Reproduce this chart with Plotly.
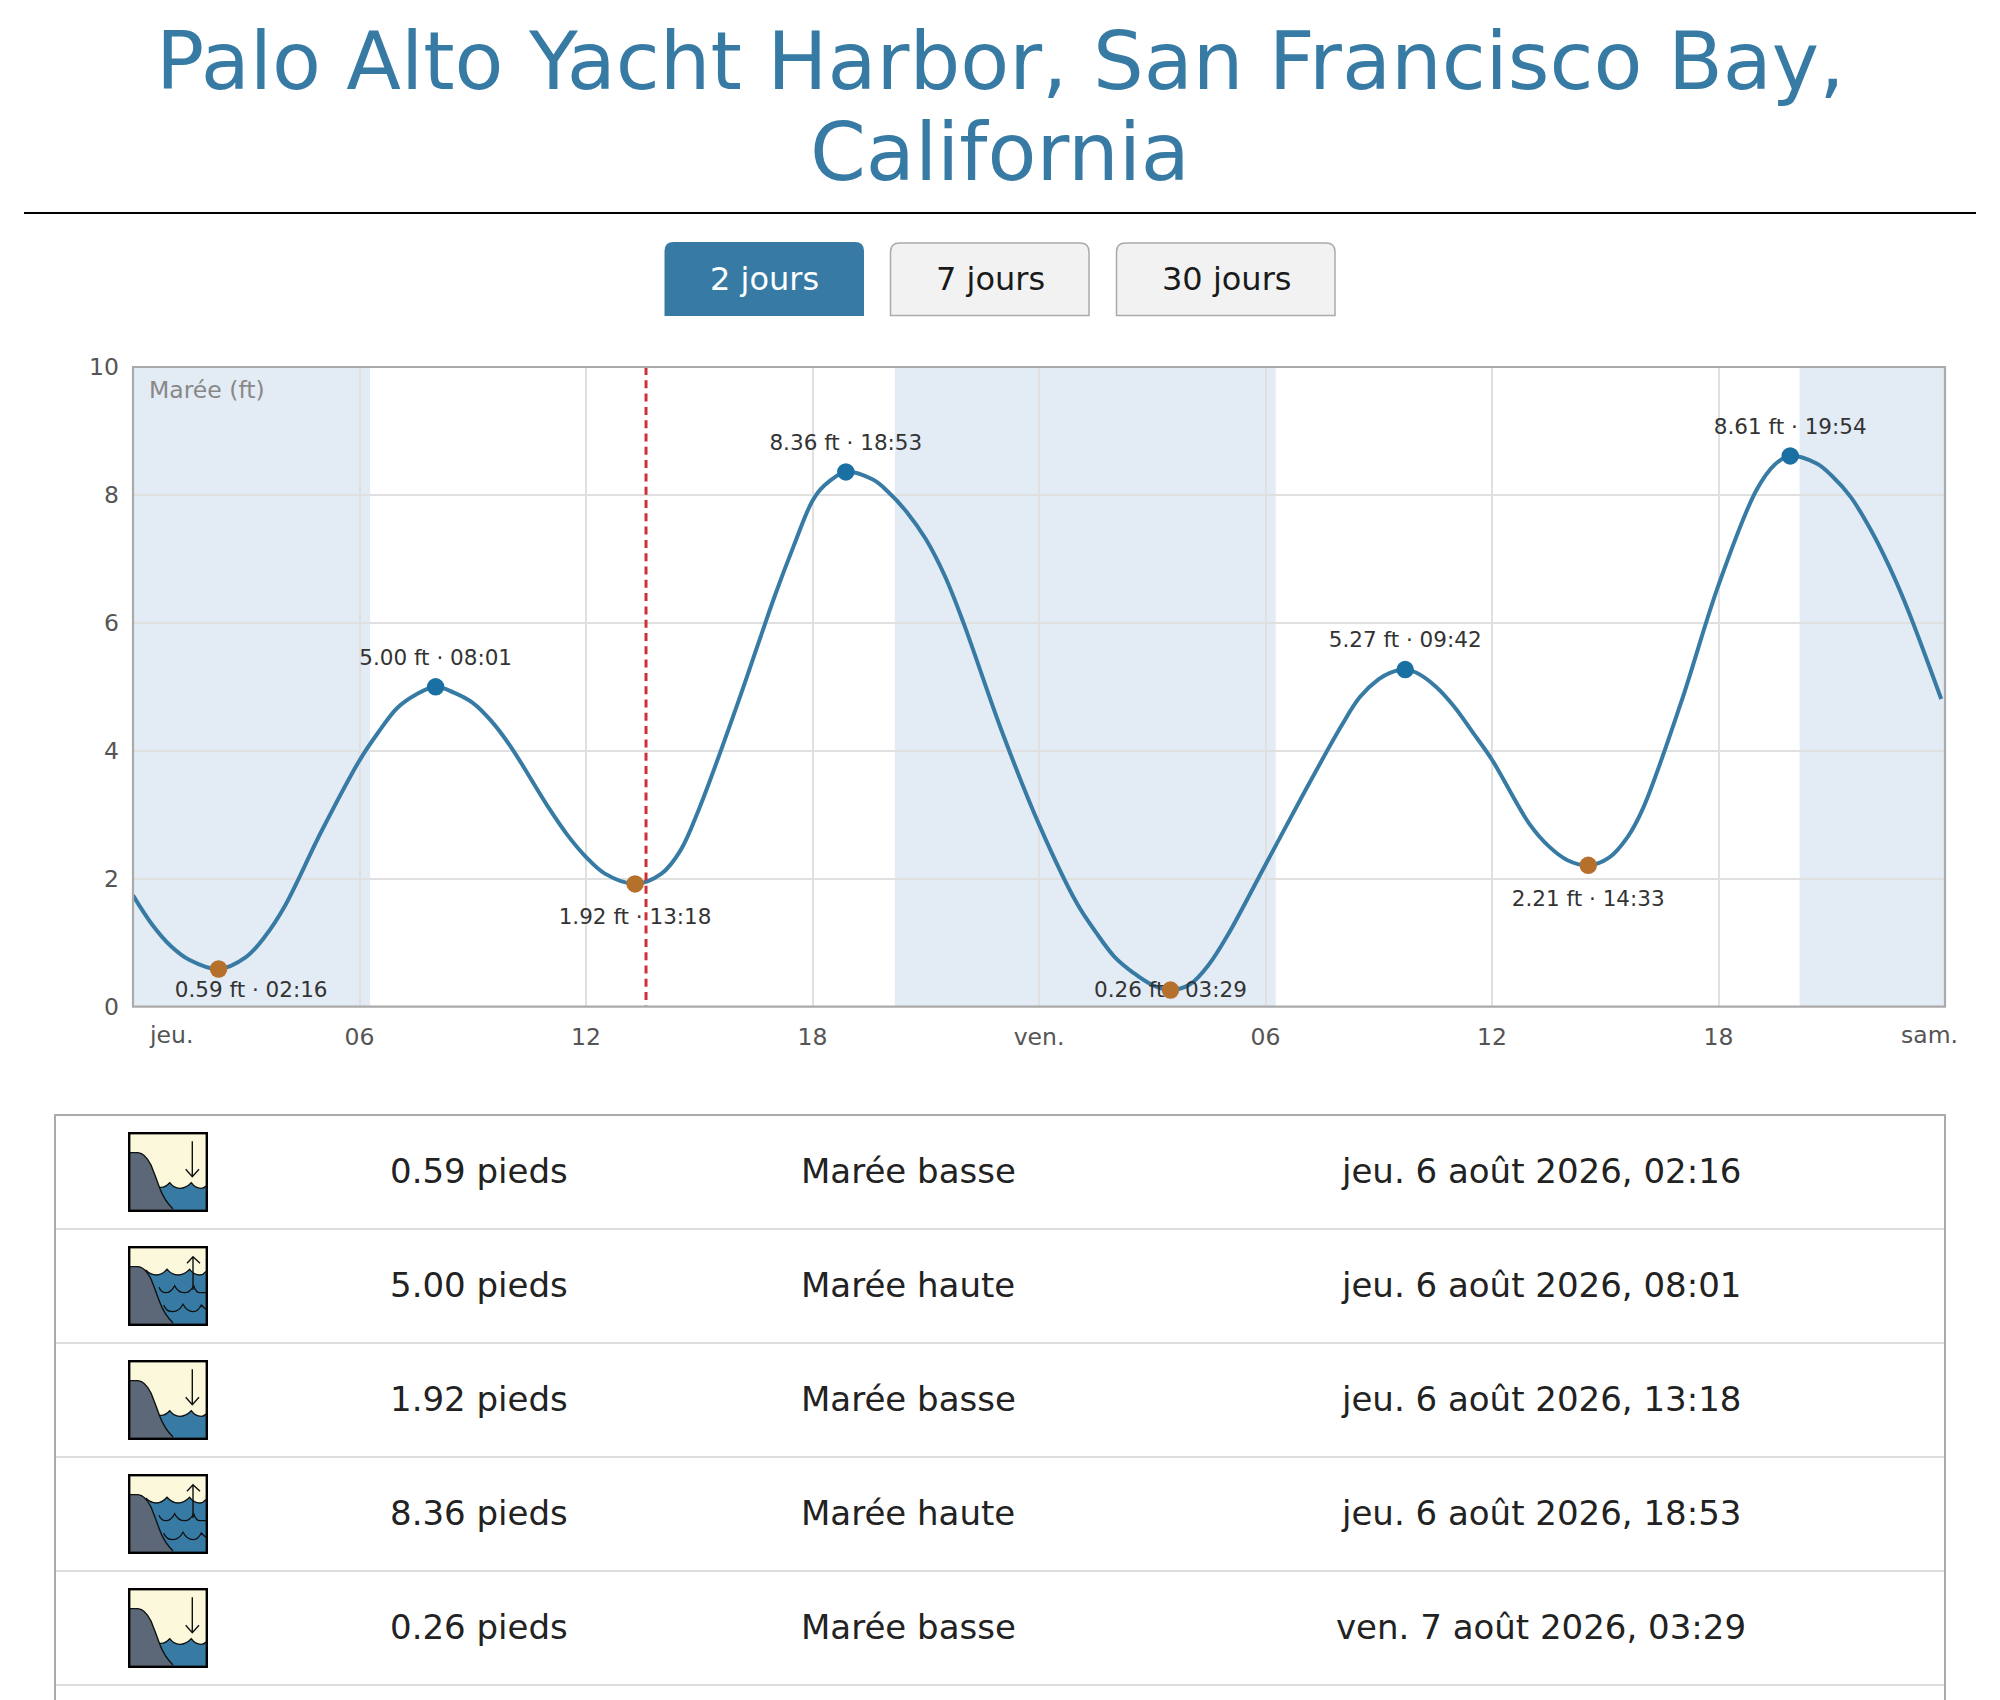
"""Tide chart page for Palo Alto Yacht Harbor, drawn as one Plotly figure."""

import base64

import plotly.graph_objects as go

W, H = 2000, 1700
FONT = "DejaVu Sans"
BLUE = "#377ba5"

title_lines = ["Palo Alto Yacht Harbor, San Francisco Bay,", "California"]
range_buttons = ["2 jours", "7 jours", "30 jours"]

# hours since Thursday 00:00 and water height in feet
tide_hours = [0, 0.5, 1, 1.5, 2.267, 3, 3.5, 4, 5, 6, 6.5, 7, 7.5, 8.017, 8.5, 9, 9.5, 10, 11, 11.5, 12, 12.5, 13.3,
              14, 14.5, 15, 16, 17, 17.5, 18, 18.3, 18.883, 19.6, 20, 20.5, 21, 21.5, 22, 23, 24, 25, 25.5, 26,
              26.5, 27, 27.483, 28, 28.5, 29, 30, 31, 32, 32.5, 33, 33.3, 33.7, 34, 34.5, 35, 35.5, 36, 37, 37.5, 38,
              38.55, 39.1, 39.6, 40, 41, 42, 43, 43.5, 43.9, 44.6, 45, 45.5, 46, 46.5, 47, 47.9]
tide_feet = [1.74, 1.29, 0.95, 0.73, 0.59, 0.78, 1.10, 1.55, 2.75, 3.85, 4.29, 4.67, 4.88, 5.00, 4.91, 4.75, 4.46, 4.07,
             3.12, 2.69, 2.34, 2.08, 1.92,
             2.08, 2.44, 3.10, 4.71, 6.42, 7.20, 7.91, 8.14, 8.36, 8.24, 8.05, 7.73, 7.31, 6.74, 6.00, 4.33, 2.85,
             1.62, 1.17, 0.78, 0.53, 0.34, 0.26, 0.35, 0.66, 1.12, 2.22, 3.32, 4.38, 4.84, 5.12, 5.22, 5.27, 5.22, 5.01,
             4.69, 4.28, 3.86, 2.85, 2.51, 2.29, 2.21, 2.33, 2.66, 3.10, 4.74, 6.59, 8.07, 8.48, 8.61, 8.49, 8.30, 7.97,
             7.49, 6.91, 6.23, 4.81]

# high and low waters
extreme_day = [0, 0, 0, 0, 1, 1, 1, 1]
extreme_time = ["02:16", "08:01", "13:18", "18:53", "03:29", "09:42", "14:33", "19:54"]
extreme_feet = [0.59, 5.00, 1.92, 8.36, 0.26, 5.27, 2.21, 8.61]
extreme_high = [False, True, False, True, False, True, False, True]

# dark parts of the day, in hours
night_start = [0, 20.18, 44.15]
night_end = [6.28, 30.27, 48]
now_hour = 13.59

x_ticks = [6, 12, 18, 24, 30, 36, 42]
x_tick_text = ["06", "12", "18", "ven.", "06", "12", "18"]
y_ticks = [0, 2, 4, 6, 8, 10]

row_feet = ["0.59 pieds", "5.00 pieds", "1.92 pieds", "8.36 pieds", "0.26 pieds"]
row_kind = ["Marée basse", "Marée haute", "Marée basse", "Marée haute", "Marée basse"]
row_date = ["jeu. 6 août 2026, 02:16", "jeu. 6 août 2026, 08:01", "jeu. 6 août 2026, 13:18",
            "jeu. 6 août 2026, 18:53", "ven. 7 août 2026, 03:29"]

# plot box, in page pixels
LEFT, RIGHT, TOP, BOTTOM = 133, 1945, 367, 1006.7
PX_PER_FT = (BOTTOM - TOP) / 10
LABEL_MIN_HOUR = 3.13


def fx(x):
    return x / W


def fy(y):
    return 1 - y / H


def text(x, y, s, size, color, anchor="center"):
    fig.add_annotation(x=fx(x), y=fy(y), xref="paper", yref="paper", text=s, showarrow=False,
                       xanchor=anchor, yanchor="middle", font=dict(family=FONT, size=size, color=color))


def hline(x0, x1, y, color, width):
    fig.add_shape(type="line", xref="paper", yref="paper", x0=fx(x0), x1=fx(x1), y0=fy(y), y1=fy(y),
                  line=dict(color=color, width=width))


def vline(x, y0, y1, color, width):
    fig.add_shape(type="line", xref="paper", yref="paper", x0=fx(x), x1=fx(x), y0=fy(y0), y1=fy(y1),
                  line=dict(color=color, width=width))


def tab(x0, x1, y0, y1, fill, border):
    r = 9
    path = (f"M {fx(x0)} {fy(y1)} L {fx(x0)} {fy(y0 + r)} Q {fx(x0)} {fy(y0)} {fx(x0 + r)} {fy(y0)} "
            f"L {fx(x1 - r)} {fy(y0)} Q {fx(x1)} {fy(y0)} {fx(x1)} {fy(y0 + r)} L {fx(x1)} {fy(y1)} Z")
    line = dict(color=border, width=1.5) if border else dict(width=0)
    fig.add_shape(type="path", xref="paper", yref="paper", path=path, fillcolor=fill, line=line)


def label_y(feet, high):
    # labels sit above highs and below lows, but stay inside the plot box
    if high:
        return feet + 27.5 / PX_PER_FT
    return feet - min(35, feet * PX_PER_FT - 14.7) / PX_PER_FT


ROCK = ('<path d="M0 20.6 L10 20.6 Q17 21 23 33 Q27 43 31.7 56 Q36 68 45 77 L45 80 L0 80 Z" fill="#5c6878"/>'
        '<path d="M0 20.6 L10 20.6 Q17 21 23 33 Q27 43 31.7 56 Q36 68 45 77" fill="none" '
        'stroke="#111" stroke-width="1.4"/>')


def icon_uri(high):
    if high:
        water = ('<path d="M17.7 24 Q23 29 28.3 29 Q34 29 39 23.3 Q44 29 50 29 Q56 29 61.7 23.3 Q66 29 71.7 29 '
                 'Q75 29 80 25 L80 80 L17.7 80 Z" fill="#377ba5"/>'
                 '<path d="M17.7 24 Q23 29 28.3 29 Q34 29 39 23.3 Q44 29 50 29 Q56 29 61.7 23.3 Q66 29 71.7 29 '
                 'Q75 29 78 25.3" fill="none" stroke="#111" stroke-width="1.3"/>'
                 '<path d="M31 41.3 Q33 46.7 37.7 46.7 Q43 46.7 46.7 39.7 Q50 46.7 56.7 46.7 Q62 46.7 65.7 39.7 '
                 'Q68 46.7 72 46.7 L78 46.7" fill="none" stroke="#111" stroke-width="1.3"/>'
                 '<path d="M35.7 59 Q38 65.7 45 65.7 Q51 65.7 55 58.3 Q59 65.7 65 65.7 Q70 65.7 73.3 59 '
                 'Q75 61 78 63.3" fill="none" stroke="#111" stroke-width="1.3"/>')
        arrow = '<path d="M65 44 L65 10.7 M59 17.3 L65 10.7 L72 17.3" fill="none" stroke="#111" stroke-width="1.4"/>'
    else:
        water = ('<path d="M31.7 55.3 Q37 56 41.7 50.7 Q46 56.3 51.7 56.3 Q58 56.3 63.3 50.7 Q67 56.3 73.3 56.3 '
                 'Q76 56.3 80 54 L80 80 L31.7 80 Z" fill="#377ba5"/>'
                 '<path d="M31.7 55.3 Q37 56 41.7 50.7 Q46 56.3 51.7 56.3 Q58 56.3 63.3 50.7 Q67 56.3 73.3 56.3 '
                 'Q76 56.3 78 54" fill="none" stroke="#111" stroke-width="1.3"/>')
        arrow = '<path d="M64.3 9.3 L64.3 44.7 M57.7 37.3 L64.3 44.7 L71 37.3" fill="none" stroke="#111" stroke-width="1.4"/>'
    svg = ('<svg xmlns="http://www.w3.org/2000/svg" width="80" height="80" viewBox="0 0 80 80">'
           '<rect width="80" height="80" fill="#fcf8dc"/>' + water + ROCK + arrow +
           '<rect x="1.2" y="1.2" width="77.6" height="77.6" fill="none" stroke="#000" stroke-width="2.4"/></svg>')
    return "data:image/svg+xml;base64," + base64.b64encode(svg.encode()).decode()


fig = go.Figure()

extreme_hours = [d * 24 + int(t[:2]) + int(t[3:]) / 60 for d, t in zip(extreme_day, extreme_time)]
extreme_text = [f"{f:.2f} ft · {t}" for f, t in zip(extreme_feet, extreme_time)]

fig.add_trace(go.Scatter(x=tide_hours, y=tide_feet, mode="lines",
                         line=dict(color=BLUE, width=4, shape="spline", smoothing=1),
                         hoverinfo="skip", showlegend=False))
fig.add_trace(go.Scatter(x=[now_hour, now_hour], y=[10, 0], mode="lines",
                         line=dict(color="#cf3038", width=3, dash="8px,5.3px"), hoverinfo="skip", showlegend=False))
fig.add_trace(go.Scatter(x=[max(h, LABEL_MIN_HOUR) for h in extreme_hours],
                         y=[label_y(f, h) for f, h in zip(extreme_feet, extreme_high)],
                         mode="text", text=extreme_text, textposition="middle center",
                         textfont=dict(family=FONT, size=21.5, color="#333333"), cliponaxis=False,
                         hoverinfo="skip", showlegend=False))
fig.add_trace(go.Scatter(x=extreme_hours, y=extreme_feet, mode="markers",
                         marker=dict(size=17.5, color=["#1a6fa3" if h else "#b5702b" for h in extreme_high]),
                         showlegend=False, hovertext=extreme_text, hoverinfo="text"))

for start, end in zip(night_start, night_end):
    fig.add_vrect(x0=start, x1=end, fillcolor="#e3ebf4", line_width=0, layer="below")

fig.update_layout(
    width=W, height=H, autosize=False, margin=dict(l=0, r=0, t=0, b=0, autoexpand=False),
    paper_bgcolor="white", plot_bgcolor="white", font=dict(family=FONT),
    xaxis=dict(domain=[fx(LEFT), fx(RIGHT)], range=[0, 48], tickvals=x_ticks, ticktext=x_tick_text,
               showgrid=True, gridcolor="#e0e0e0", gridwidth=2, zeroline=False, automargin=False,
               showline=False, ticks="",
               ticklabelstandoff=14, tickfont=dict(family=FONT, size=23.5, color="#555555")),
    yaxis=dict(domain=[fy(BOTTOM), fy(TOP)], range=[0, 10], tickvals=y_ticks,
               showgrid=True, gridcolor="#e0e0e0", gridwidth=2, zeroline=False, automargin=False,
               showline=False, ticks="",
               ticklabelstandoff=13, tickfont=dict(family=FONT, size=23.5, color="#555555")),
)

# plot frame, centred on the box edges
fig.add_shape(type="rect", xref="x domain", yref="y domain", x0=0, x1=1, y0=0, y1=1,
              line=dict(color="#aaaaaa", width=2.2), layer="above")

# first and last day names sit inside the plot edges
text(146.5, 1035, "jeu.", 23.5, "#555555", "left")
text(1959.5, 1035, "sam.", 23.5, "#555555", "right")
text(146.5, 390, "Marée (ft)", 23.5, "#888888", "left")

# heading
text(1000, 61, title_lines[0], 80, BLUE)
text(1000, 153, title_lines[1], 80, BLUE)
hline(24, 1976, 213, "#000000", 2)

# range tabs
tab(664.5, 864, 242, 316, BLUE, None)
tab(890.5, 1089, 243, 315.5, "#f2f2f2", "#aaaaaa")
tab(1116.5, 1335, 243, 315.5, "#f2f2f2", "#aaaaaa")
text(764, 279, range_buttons[0], 32, "#ffffff")
text(990, 279, range_buttons[1], 32, "#1a1a1a")
text(1226, 279, range_buttons[2], 32, "#1a1a1a")

# table of the next tides
hline(54, 1946, 1115, "#aaaaaa", 2)
for i in range(len(row_feet)):
    cy = 1171 + i * 114
    hline(55, 1945, 1115 + (i + 1) * 114, "#dddddd", 2)
    text(479, cy, row_feet[i], 34, "#222222")
    text(908, cy, row_kind[i], 34, "#222222")
    text(1541, cy, row_date[i], 34, "#222222")
    fig.add_layout_image(source=icon_uri(row_kind[i].endswith("haute")), xref="paper", yref="paper",
                         x=fx(128), y=fy(cy - 39), sizex=80 / W, sizey=80 / H, sizing="stretch",
                         xanchor="left", yanchor="top", layer="above")
vline(55, 1115, 1700, "#aaaaaa", 2)
vline(1945, 1115, 1700, "#aaaaaa", 2)

fig.write_html("out.html", config={"displayModeBar": False},
               post_script="document.body.style.margin='0';document.body.style.overflow='hidden';")
